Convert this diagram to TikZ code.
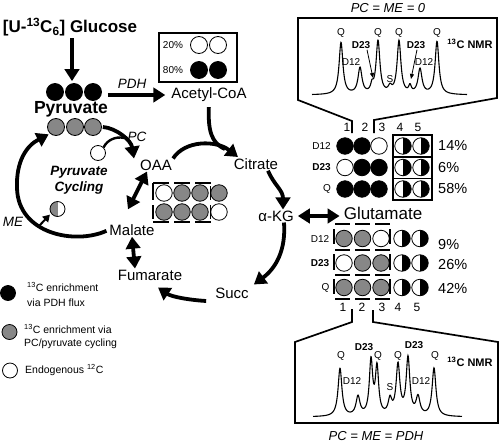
\documentclass[tikz,border=0pt]{standalone}
\usepackage{fontspec}
\setmainfont{Liberation Sans}
\usetikzlibrary{arrows.meta}
\definecolor{dotgray}{RGB}{135,135,135}
\begin{document}
\begin{tikzpicture}[x=1pt,y=-1pt,
  main/.style={inner sep=1pt,font=\fontsize{15}{15}\selectfont},
  itl/.style={inner sep=1pt,font=\itshape\fontsize{13.5}{13.5}\selectfont},
  small/.style={inner sep=0pt,font=\fontsize{10}{10}\selectfont},
  smallb/.style={inner sep=0pt,font=\bfseries\fontsize{10}{10}\selectfont},
  num/.style={inner sep=0pt,font=\fontsize{12}{12}\selectfont},
  pct/.style={inner sep=0pt,anchor=west,font=\fontsize{14.5}{14.5}\selectfont},
  dot/.style={circle,draw=black,line width=0.8pt,minimum size=16.5pt,inner sep=0pt},
  bk/.style={dot,fill=black},
  gy/.style={dot,fill=dotgray},
  wh/.style={dot,fill=white},
  hb/.style={dot,fill=white,path picture={\fill[black] (path picture bounding box.north) rectangle (path picture bounding box.south east);}},
  hg/.style={dot,fill=white,path picture={\fill[dotgray] (path picture bounding box.south west) rectangle (path picture bounding box.north);}},
  fat/.style={line width=3.8pt},
  fatarr/.style={fat,-{Triangle[length=12pt,width=14.5pt]}},
  fatdbl/.style={fat,{Triangle[length=12pt,width=14.5pt]}-{Triangle[length=12pt,width=14.5pt]}},
  boxl/.style={line width=1.7pt},
  dashl/.style={line width=1.8pt,dash pattern=on 15pt off 5pt},
  spec/.style={line width=1.1pt},
  thinarr/.style={line width=0.8pt,-{Triangle[length=5pt,width=4pt]}}
]
\fill[white] (0,0) rectangle (500,442);
\useasboundingbox (0,0) rectangle (500,442);

% ---------- left pathway ----------
\node[inner sep=1pt,font=\bfseries\fontsize{17}{17}\selectfont] (glu) at (70,27) {[U-\textsuperscript{13}C\textsubscript{6}] Glucose};
\node[bk,minimum size=17pt] (p1) at (55,92) {};
\node[bk,minimum size=17pt] (p2) at (74,92) {};
\node[bk,minimum size=17pt] (p3) at (93,92) {};
\node[inner sep=1pt,font=\bfseries\fontsize{17.5}{17.5}\selectfont] (pyr) at (71,109) {Pyruvate};
\node[gy,minimum size=17pt] (g1) at (56,127) {};
\node[gy,minimum size=17pt] (g2) at (75,127) {};
\node[gy,minimum size=17pt] (g3) at (93,127) {};
\draw[fatarr,shorten <=1pt,shorten >=2pt] ([xshift=2pt]glu.south) -- ([xshift=-2pt]p2.north);

\node[main] (acoa) at (209,95) {Acetyl-CoA};
\node[itl] (pdh) at (132,84) {PDH};
\draw[fatarr,shorten <=6pt,shorten >=5pt] ([yshift=-3pt]p3.east) -- (acoa.west);

\node[draw,boxl,minimum width=78pt,minimum height=49pt,inner sep=0pt] (abox) at (198,57.5) {};
\node[wh,minimum size=17pt] (aw1) at (199,45) {};
\node[wh,minimum size=17pt] (aw2) at (218,45) {};
\node[bk,minimum size=17pt] (ab1) at (199,70) {};
\node[bk,minimum size=17pt] (ab2) at (218,70) {};
\node[small] (p20) at (173,45) {20\%};
\node[small] (p80) at (173,70) {80\%};

\node[main] (cit) at (256,164) {Citrate};
\node[main] (oaa) at (156,165) {OAA};
\node[main] (mal) at (132,230) {Malate};
\node[main] (fum) at (150,275) {Fumarate};
\node[main] (suc) at (232,293) {Succ};
\node[main] (akg) at (276,216) {α-KG};
\node[inner sep=1pt,font=\fontsize{17}{17}\selectfont] (glt) at (383,213) {Glutamate};

\coordinate (mrg) at (225,149);
\coordinate (citin) at (238,157);
\draw[fat,shorten <=4pt] (acoa.south) .. controls (208,130) and (211,143) .. (mrg);
\draw[fatarr] (oaa.north east) .. controls (185,140) and (216,140) .. (citin);

\draw[fatarr] ([xshift=12pt]cit.south) .. controls (274,185) and (283,190) .. ([xshift=7pt]akg.north);
\draw[fatarr] ([xshift=8pt]akg.south) .. controls (286,250) and (276,268) .. ([shift={(4pt,2pt)}]suc.north east);
\draw[fatarr] ([shift={(-8pt,-8pt)}]suc.west) .. controls (190,300) and (172,297) .. ([shift={(8pt,-6pt)}]fum.south);
\draw[fatdbl] (mal.south) -- ([xshift=-15pt]fum.north);
\draw[fatdbl] ([xshift=-9pt]oaa.south) -- ([shift={(-4pt,14pt)}]mal.north);
\draw[fatdbl,shorten <=3pt,shorten >=3pt] (akg.east) -- (akg.east -| glt.west);

% PC
\node[itl] (pclbl) at (137,137) {PC};
\node[wh,minimum size=15pt] (pcw) at (98,153) {};
\coordinate (pcm) at (124,138);
\draw[fatarr] ([xshift=1pt]g3.east) .. controls (116,128) and (131,140) .. ([xshift=-22pt]oaa.north);
\draw[line width=2.4pt] (pcw.north east) .. controls (107,140) and (116,136) .. (pcm);

\node[inner sep=0pt,align=center,font=\bfseries\itshape\fontsize{13.5}{16}\selectfont] (cyc) at (79,180) {Pyruvate\\Cycling};

% ME
\node[itl] (melbl) at (13,222) {ME};
\node[hg,minimum size=15pt] (meh) at (57.5,209) {};
\coordinate (mesrc) at (39,226);
\draw[fatarr,shorten <=2pt] (mal.west) .. controls (75,245) and (18,234) .. (17,188) .. controls (16,162) and (26,146) .. ([shift={(-1pt,-1pt)}]g1.south west);
\draw[line width=2pt,-{Triangle[length=7pt,width=8pt]}] (mesrc) -- ([xshift=-2pt]meh.south west);

% OAA box
\node[wh] (o11) at (164,193) {};
\node[gy] (o12) at (182,193) {};
\node[gy] (o13) at (200,193) {};
\node[gy] (o14) at (219,193) {};
\node[gy] (o21) at (164,212) {};
\node[gy] (o22) at (182,212) {};
\node[gy] (o23) at (200,212) {};
\node[wh] (o24) at (219,212) {};
\draw[line width=1.8pt,dash pattern=on 16pt off 5pt] (153,183) -- (211,183);
\draw[line width=1.8pt,dash pattern=on 16pt off 5pt] (153,222) -- (211,222);
\draw[line width=1.8pt] (153,183) -- (153,200) (153,205) -- (153,219);
\draw[line width=1.6pt] (210.5,186) -- (210.5,200) (210.5,205) -- (210.5,219);

% ---------- legend ----------
\node[bk,minimum size=15pt] (lk) at (8,293) {};
\node[anchor=west,align=left,inner sep=0pt,font=\fontsize{10.5}{15}\selectfont] (lkt) at (27,294.5) {\textsuperscript{13}C enrichment\\via PDH flux};
\node[gy,minimum size=15pt] (lg) at (9.5,332) {};
\node[anchor=west,align=left,inner sep=0pt,font=\fontsize{10.5}{13}\selectfont] (lgt) at (24,336.5) {\textsuperscript{13}C enrichment via\\PC/pyruvate cycling};
\node[wh,minimum size=15pt] (lw) at (10,370.5) {};
\node[anchor=west,inner sep=0pt,font=\fontsize{10.5}{13}\selectfont] (lwt) at (25,370) {Endogenous \textsuperscript{12}C};

% ---------- top spectrum ----------
\node[inner sep=0pt,font=\itshape\fontsize{13}{13}\selectfont] (tt) at (388,8) {PC = ME = 0};
\draw[boxl] (352,133) -- (352,121) -- (298,100) -- (298,18) -- (497,18) -- (497,98) -- (374,120) -- (374,133);
\draw[spec] plot[domain=312:467,samples=500] (\x,{95 - 52/(1+((\x-341)/2.3)^2) - 26/(1+((\x-360)/2.4)^2) - 7/(1+((\x-372)/1.6)^2) - 53/(1+((\x-378)/2.3)^2) - 6/(1+((\x-390)/2.2)^2) - 53/(1+((\x-399)/2.3)^2) - 7/(1+((\x-410)/1.6)^2) - 25/(1+((\x-420)/2.4)^2) - 53/(1+((\x-437)/2.3)^2)});
\node[small] (tq1) at (341,33) {Q};
\node[small] (tq2) at (378,33) {Q};
\node[small] (tq3) at (399,33) {Q};
\node[small] (tq4) at (437,33) {Q};
\node[smallb] (td23a) at (361,45) {D23};
\node[smallb] (td23b) at (416,45) {D23};
\node[small] (td12a) at (351,62) {D12};
\node[small] (td12b) at (424,62) {D12};
\node[small] (ts) at (390,79) {S};
\node[inner sep=0pt,font=\bfseries\fontsize{11}{11}\selectfont] (tnmr) at (470,44) {\textsuperscript{13}C NMR};
\coordinate (tpa) at (373,78);
\coordinate (tpb) at (411,79);
\draw[thinarr] ([xshift=6pt,yshift=-1pt]td23a.south) -- (tpa);
\draw[thinarr] ([xshift=1pt,yshift=-1pt]td23b.south) -- (tpb);

% top glutamate rows
\node[num] (n1) at (347,127) {1};
\node[num] (n2) at (365,127) {2};
\node[num] (n3) at (382,127) {3};
\node[num] (n4) at (400,127) {4};
\node[num] (n5) at (418,127) {5};
\node[small,anchor=east] (ra) at (331,146) {D12};
\node[smallb,anchor=east] (rb) at (331,167.5) {D23};
\node[small,anchor=east] (rc) at (331,189) {Q};
\node[bk] (ta1) at (345,146) {};
\node[bk] (ta2) at (362,146) {};
\node[wh] (ta3) at (379,146) {};
\node[hb] (ta4) at (403,146) {};
\node[hb] (ta5) at (421,146) {};
\node[wh] (tb1) at (345,167.5) {};
\node[bk] (tb2) at (362,167.5) {};
\node[bk] (tb3) at (379,167.5) {};
\node[hb] (tb4) at (403,167.5) {};
\node[hb] (tb5) at (421,167.5) {};
\node[bk] (tc1) at (345,189) {};
\node[bk] (tc2) at (362,189) {};
\node[bk] (tc3) at (379,189) {};
\node[hb] (tc4) at (403,189) {};
\node[hb] (tc5) at (421,189) {};
\draw[boxl] (393,135) rectangle (432,200);
\draw[boxl] (393,157) -- (432,157) (393,178.5) -- (432,178.5);
\node[pct] (pa) at (438,146) {14\%};
\node[pct] (pb) at (438,167.5) {6\%};
\node[pct] (pc) at (438,189) {58\%};

% lower glutamate rows
\node[small,anchor=east] (rd) at (329.5,239) {D12};
\node[smallb,anchor=east] (re) at (329.5,263) {D23};
\node[small,anchor=east] (rf) at (329.5,288) {Q};
\node[gy] (ld1) at (344,238.5) {};
\node[gy] (ld2) at (362.5,238.5) {};
\node[wh] (ld3) at (381,238.5) {};
\node[hb] (ld4) at (402,238.5) {};
\node[hb] (ld5) at (420,238.5) {};
\node[wh] (le1) at (344,263) {};
\node[gy] (le2) at (362.5,263) {};
\node[gy] (le3) at (381,263) {};
\node[hb] (le4) at (402,263) {};
\node[hb] (le5) at (420,263) {};
\node[gy] (lf1) at (344,287.5) {};
\node[gy] (lf2) at (362.5,287.5) {};
\node[gy] (lf3) at (381,287.5) {};
\node[hb] (lf4) at (402,287.5) {};
\node[hb] (lf5) at (420,287.5) {};
\draw[dashl] (335,224) -- (391,224);
\draw[dashl] (335,250) -- (391,250);
\draw[dashl] (335,275) -- (391,275);
\draw[dashl] (335,299) -- (391,299);
\draw[line width=1.8pt] (334,229) -- (334,244) (334,254) -- (334,270) (334,279) -- (334,294);
\draw[line width=1.8pt] (390,229) -- (390,244) (390,254) -- (390,270) (390,279) -- (390,294);
\node[pct] (pd) at (438,245) {9\%};
\node[pct] (pe) at (438,265) {26\%};
\node[pct] (pf) at (438,288) {42\%};
\node[num] (m1) at (343,307) {1};
\node[num] (m2) at (362,307) {2};
\node[num] (m3) at (382,307) {3};
\node[num] (m4) at (398,307) {4};
\node[num] (m5) at (417,307) {5};

% ---------- bottom spectrum ----------
\draw[boxl] (352,309) -- (352,322) -- (295,342) -- (295,423) -- (498,423) -- (498,342) -- (373,322) -- (373,310);
\draw[spec] plot[domain=313:462,samples=500] (\x,{417 - 48/(1+((\x-340)/2.3)^2) - 19/(1+((\x-358)/2.4)^2) - 54/(1+((\x-371)/2)^2) - 47/(1+((\x-377)/2)^2) - 15/(1+((\x-390)/2.2)^2) - 50/(1+((\x-398)/2.3)^2) - 57/(1+((\x-408)/2.2)^2) - 18/(1+((\x-418)/2.4)^2) - 48/(1+((\x-434)/2.3)^2)});
\node[small] (bq1) at (341,356) {Q};
\node[small] (bq2) at (378,356) {Q};
\node[small] (bq3) at (398,356) {Q};
\node[small] (bq4) at (435,356) {Q};
\node[smallb] (bd23a) at (364,347) {D23};
\node[smallb] (bd23b) at (414,345) {D23};
\node[small] (bd12a) at (352,381) {D12};
\node[small] (bd12b) at (421,381) {D12};
\node[small] (bs) at (390,387) {S};
\node[inner sep=0pt,font=\bfseries\fontsize{11}{11}\selectfont] (bnmr) at (470,362) {\textsuperscript{13}C NMR};
\node[inner sep=0pt,font=\itshape\fontsize{13}{13}\selectfont] (bt) at (376,436) {PC = ME = PDH};
\end{tikzpicture}
\end{document}
